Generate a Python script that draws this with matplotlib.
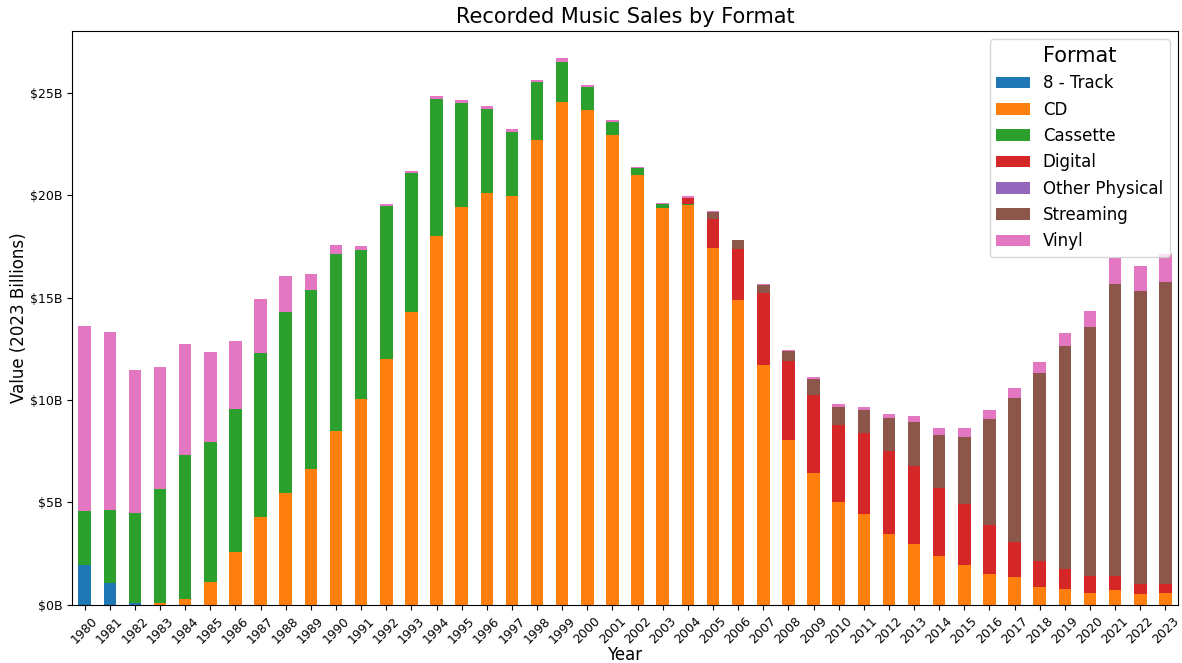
import matplotlib

matplotlib.use("Agg")
import matplotlib.pyplot as plt
import pandas as pd
from matplotlib.ticker import FuncFormatter

# values in billions of 2023 dollars
years = list(range(1980, 2024))

eight_track = [1.95, 1.06, 0.11, 0.02] + [0.0] * 40

cd = [0.0, 0.0, 0.0, 0.08, 0.29, 1.12, 2.60, 4.30, 5.44, 6.64,
      8.48, 10.07, 12.02, 14.29, 18.01, 19.41, 20.12, 19.97, 22.70, 24.53,
      24.13, 22.94, 20.96, 19.37, 19.53, 17.41, 14.89, 11.69, 8.07, 6.46,
      5.03, 4.43, 3.48, 2.96, 2.41, 1.97, 1.53, 1.35, 0.90, 0.80,
      0.60, 0.72, 0.54, 0.57]

cassette = [2.64, 3.58, 4.40, 5.54, 7.02, 6.81, 6.95, 7.97, 8.87, 8.74,
            8.66, 7.23, 7.42, 6.77, 6.65, 5.07, 4.06, 3.12, 2.82, 1.97,
            1.14, 0.60, 0.34, 0.17, 0.05, 0.02] + [0.0] * 18

digital = [0.0] * 24 + [0.27, 1.42, 2.49, 3.53, 3.84, 3.78,
                        3.74, 3.94, 4.01, 3.83, 3.32, 2.98, 2.36, 1.73, 1.25, 0.97,
                        0.82, 0.70, 0.50, 0.46]

other_physical = [0.0] * 44

streaming = [0.0] * 25 + [0.31, 0.41, 0.40, 0.46, 0.78,
                          0.91, 1.14, 1.61, 2.13, 2.57, 3.24, 5.18, 7.03, 9.18, 10.88,
                          12.12, 14.25, 14.26, 14.74]

vinyl = [9.03, 8.69, 6.96, 5.98, 5.40, 4.42, 3.34, 2.66, 1.75, 0.77,
         0.44, 0.23, 0.14, 0.13, 0.18, 0.16, 0.17, 0.15, 0.11, 0.16,
         0.08, 0.11, 0.09, 0.08, 0.08, 0.05, 0.03, 0.05, 0.06, 0.10,
         0.12, 0.16, 0.23, 0.31, 0.33, 0.44, 0.45, 0.47, 0.50, 0.62,
         0.80, 1.24, 1.24, 1.33]

df = pd.DataFrame(
    {
        "8 - Track": eight_track,
        "CD": cd,
        "Cassette": cassette,
        "Digital": digital,
        "Other Physical": other_physical,
        "Streaming": streaming,
        "Vinyl": vinyl,
    },
    index=years,
)

fig, ax = plt.subplots(figsize=(11.82, 6.63), dpi=100)
fig.subplots_adjust(left=0.061, right=0.9966, top=0.953, bottom=0.0875)

df.plot(kind="bar", stacked=True, ax=ax)

ax.set_title("Recorded Music Sales by Format", fontsize=15)
ax.set_xlabel("Year", fontsize=12, labelpad=0)
ax.set_ylabel("Value (2023 Billions)", fontsize=12, labelpad=1)
ax.yaxis.set_major_formatter(FuncFormatter(lambda v, _: f"${v:.0f}B"))
ax.tick_params(labelsize=9)
plt.setp(ax.get_xticklabels(), rotation=45)
ax.legend(title="Format", loc="upper right", fontsize=12, title_fontsize=15)

fig.savefig("out.png", dpi=100)
